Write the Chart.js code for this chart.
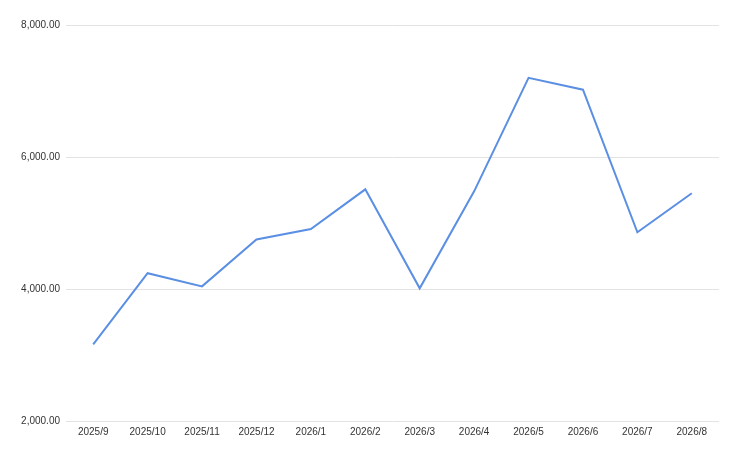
<!DOCTYPE html>
<html>
<head>
<meta charset="utf-8">
<script src="https://cdn.jsdelivr.net/npm/chart.js@4/dist/chart.umd.min.js"></script>
<style>
  html, body { margin: 0; padding: 0; background: #fff; }
  #wrap { width: 734px; height: 449px; }
</style>
</head>
<body>
<div id="wrap"><canvas id="lineChart" width="734" height="449"></canvas></div>
<script>
const months = ['2025/9', '2025/10', '2025/11', '2025/12', '2026/1', '2026/2',
    '2026/3', '2026/4', '2026/5', '2026/6', '2026/7', '2026/8'];
const values = [3160, 4240, 4040, 4750, 4910, 5510, 4010, 5480, 7200, 7020, 4860, 5450];
const yTicks = [2000, 4000, 6000, 8000];

const lineChart = function () {
    const ctx = document.getElementById('lineChart').getContext('2d');

    Chart.defaults.font.family = "'Liberation Sans', Arial, sans-serif";
    Chart.defaults.font.size = 10;
    Chart.defaults.color = '#333';

    new Chart(ctx, {
        type: 'line',
        data: {
            labels: months,
            datasets: [{
                data: values,
                borderColor: '#5b8fe3',
                borderWidth: 2,
                pointRadius: 0,
                tension: 0,
                fill: false
            }]
        },
        options: {
            responsive: false,
            animation: false,
            layout: { padding: { top: 25, right: 15, bottom: 0, left: 0 } },
            plugins: {
                legend: { display: false },
                tooltip: { enabled: false }
            },
            scales: {
                x: {
                    offset: true,
                    grid: { display: false, drawTicks: false },
                    border: { display: false },
                    ticks: { padding: 5, maxRotation: 0, autoSkip: false },
                    afterFit: function (scale) { scale.height = 28; }
                },
                y: {
                    min: yTicks[0],
                    max: yTicks[yTicks.length - 1],
                    afterBuildTicks: function (scale) {
                        scale.ticks = yTicks.map(v => ({ value: v }));
                    },
                    grid: { color: '#e3e3e3', lineWidth: 1, drawTicks: false },
                    border: { display: false },
                    ticks: {
                        padding: 6,
                        callback: function (v) {
                            return Number(v).toLocaleString('en-US', { minimumFractionDigits: 2, maximumFractionDigits: 2 });
                        }
                    },
                    afterFit: function (scale) { scale.width = 66; }
                }
            }
        }
    });
};

lineChart();
</script>
</body>
</html>
